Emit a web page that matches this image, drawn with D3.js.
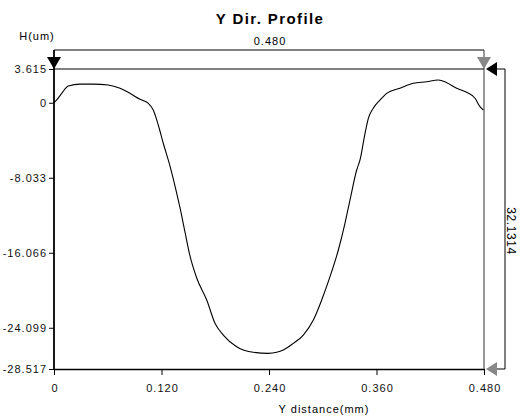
<!DOCTYPE html>
<html>
<head>
<meta charset="utf-8">
<script src="https://cdn.jsdelivr.net/npm/d3@7"></script>
<style>
  body { margin: 0; background: #fff; }
  svg { font-family: "Liberation Sans", Arial, sans-serif; }
  .tick text { font-size: 11px; fill: #111; letter-spacing: 1px; }
  .domain, .tick line { stroke: #000; }
</style>
</head>
<body>
<svg width="525" height="419"></svg>
<script>
  // profile samples
  const distance = [0, 0.003, 0.0086, 0.016, 0.029, 0.0439, 0.0606, 0.0737, 0.0848, 0.096,
    0.1053, 0.1108, 0.1164, 0.122, 0.1295, 0.1351, 0.1407, 0.1462, 0.1518, 0.1593,
    0.1705, 0.1797, 0.189, 0.2039, 0.2225, 0.2392, 0.2486, 0.256, 0.2671, 0.2783,
    0.2895, 0.2988, 0.3081, 0.3174, 0.3248, 0.3304, 0.3379, 0.3416, 0.3472, 0.3509,
    0.3564, 0.3639, 0.3714, 0.3862, 0.4011, 0.416, 0.4289, 0.4384, 0.4495, 0.4607,
    0.47, 0.4755, 0.4792];
  const height = [0, 0.3, 1.01, 1.79, 2.0, 2.0, 1.9, 1.55, 1.01, 0.37,
    -0.06, -0.78, -2.38, -4.34, -6.78, -8.92, -11.27, -13.84, -16.41, -18.77,
    -21.13, -23.62, -24.88, -26.13, -26.73, -26.84, -26.73, -26.48, -25.77, -24.88,
    -23.27, -21.13, -18.63, -15.77, -12.91, -10.42, -7.2, -6.13, -3.27, -1.67,
    -0.59, 0.29, 1.01, 1.55, 2.08, 2.25, 2.44, 2.15, 1.55, 1.12,
    0.48, -0.42, -0.78];

  const xTicks = [0, 0.12, 0.24, 0.36, 0.48];
  const xTickLabels = ['0', '0.120', '0.240', '0.360', '0.480'];
  const yTicks = [3.615, 0, -8.033, -16.066, -24.099, -28.517];
  const yTickLabels = ['3.615', '0', '-8.033', '-16.066', '-24.099', '-28.517'];
  const widthLabel = '0.480';
  const depthLabel = '32.1314';

  (function () {
    const svg = d3.select('svg');
    const left = 54, right = 484, plotTop = 69, plotBottom = 369;

    const x = d3.scaleLinear().domain([0, 0.48]).range([left, right]);
    const y = d3.scaleLinear().domain([-28.517, 3.615]).range([plotBottom, plotTop]);

    // title + axis names
    svg.append('text')
      .attr('x', 270).attr('y', 24)
      .attr('text-anchor', 'middle')
      .attr('font-size', 15).attr('font-weight', 'bold')
      .attr('letter-spacing', 1.4)
      .text('Y Dir. Profile');

    svg.append('text')
      .attr('x', 37).attr('y', 40)
      .attr('text-anchor', 'middle')
      .attr('font-size', 11).attr('letter-spacing', 1)
      .text('H(um)');

    svg.append('text')
      .attr('x', 324).attr('y', 413)
      .attr('text-anchor', 'middle')
      .attr('font-size', 11).attr('letter-spacing', 1)
      .text('Y distance(mm)');

    // axes
    svg.append('g')
      .attr('transform', `translate(0,${plotBottom})`)
      .call(d3.axisBottom(x).tickValues(xTicks)
        .tickFormat((d, i) => xTickLabels[i])
        .tickSize(6).tickSizeOuter(0).tickPadding(9))
      .call(g => g.select('.domain').attr('stroke-width', 1.5))
      .call(g => g.selectAll('.tick text').attr('dx', '0.5px'));

    svg.append('g')
      .attr('transform', `translate(${left},0)`)
      .call(d3.axisLeft(y).tickValues(yTicks)
        .tickFormat((d, i) => yTickLabels[i])
        .tickSize(5).tickSizeOuter(0).tickPadding(2))
      .call(g => g.select('.domain').remove());

    // frame + dimension lines
    const frame = svg.append('g').attr('stroke', '#000').attr('fill', 'none');
    frame.append('line').attr('x1', left).attr('x2', left).attr('y1', 50).attr('y2', plotBottom).attr('stroke-width', 1.8);
    frame.append('line').attr('x1', left).attr('x2', right).attr('y1', 50).attr('y2', 50);
    frame.append('line').attr('x1', left).attr('x2', right).attr('y1', plotTop).attr('y2', plotTop);
    frame.append('line').attr('x1', right).attr('x2', right).attr('y1', 50).attr('y2', plotBottom).attr('stroke', '#333');
    frame.append('polyline')
      .attr('points', `496,${plotTop} 505,${plotTop} 505,${plotBottom} 496,${plotBottom}`);

    svg.append('text')
      .attr('x', 270).attr('y', 45)
      .attr('text-anchor', 'middle')
      .attr('font-size', 11).attr('letter-spacing', 1)
      .text(widthLabel);

    svg.append('text')
      .attr('transform', `translate(507,${(plotTop + plotBottom) / 2 + 12}) rotate(90)`)
      .attr('text-anchor', 'middle')
      .attr('font-size', 12).attr('letter-spacing', 0.6)
      .text(depthLabel);

    // markers
    const tri = (pts, fill) => svg.append('polygon').attr('points', pts).attr('fill', fill);
    tri(`${left - 7},57 ${left + 7},57 ${left},${plotTop}`, '#000');
    tri(`${right - 7},57 ${right + 7},57 ${right},${plotTop}`, '#888');
    tri(`486,${plotTop} 497,${plotTop - 7} 497,${plotTop + 7}`, '#000');
    tri(`486,${plotBottom} 497,${plotBottom - 7} 497,${plotBottom + 7}`, '#888');

    // profile
    const line = d3.line()
      .x((d, i) => x(distance[i]))
      .y(d => y(d))
      .curve(d3.curveMonotoneX);

    svg.append('path')
      .datum(height)
      .attr('d', line)
      .attr('fill', 'none')
      .attr('stroke', '#000')
      .attr('stroke-width', 1.1);
  })();
</script>
</body>
</html>
